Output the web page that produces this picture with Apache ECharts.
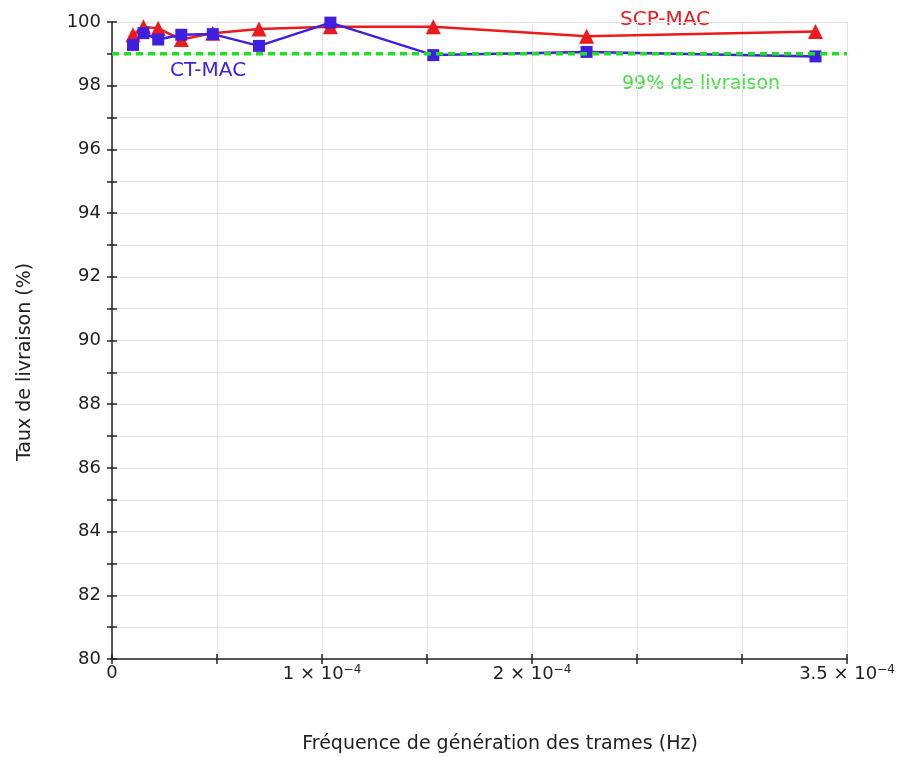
<!DOCTYPE html>
<html>
<head>
<meta charset="utf-8">
<script src="https://cdn.jsdelivr.net/npm/echarts@6/dist/echarts.min.js"></script>
<style>html,body{margin:0;padding:0;background:#fff}#c{width:900px;height:757px}</style>
</head>
<body>
<div id="c"></div>
<script>
// Data
const freqs = [1.0e-5, 1.5e-5, 2.2e-5, 3.3e-5, 4.8e-5, 7.0e-5, 1.04e-4, 1.53e-4, 2.26e-4, 3.35e-4];
const scpMac = [99.6, 99.85, 99.8, 99.45, 99.65, 99.78, 99.85, 99.85, 99.55, 99.7];
const ctMac  = [99.28, 99.65, 99.45, 99.6, 99.62, 99.25, 99.98, 98.96, 99.06, 98.92];
const threshold = 99;
const xLabelValues = [0, 1e-4, 2e-4, 3.5e-4];
const xLabelTexts = ['0', '1 × 10{s|−4}', '2 × 10{s|−4}', '3.5 × 10{s|−4}'];

const font = 'DejaVu Sans';
const pair = (xs, ys) => xs.map((x, i) => [x, ys[i]]);

function xFmt(v) {
  for (let i = 0; i < xLabelValues.length; i++) {
    if (Math.abs(v - xLabelValues[i]) < 1e-9) return xLabelTexts[i];
  }
  return '';
}

const chart = echarts.init(document.getElementById('c'));
chart.setOption({
  animation: false,
  backgroundColor: '#fff',
  grid: { left: 112, right: 53, top: 22, bottom: 98, containLabel: false, outerBoundsMode: 'none' },
  xAxis: [{
    type: 'value', min: 0, max: 3.5e-4, interval: 0.5e-4,
    axisLine: { lineStyle: { color: '#222', width: 1.5 } },
    axisTick: { show: true, length: 5, lineStyle: { color: '#222', width: 1.5 } },
    axisLabel: {
      formatter: xFmt, margin: 5, color: '#222', fontFamily: font, fontSize: 18,
      rich: { s: { fontSize: 12, verticalAlign: 'top', color: '#222', fontFamily: font, padding: [0, 0, 9, 0] } }
    },
    splitLine: { show: true, lineStyle: { color: '#e4e4e4', width: 1 } }
  }, {
    type: 'value', min: 0, max: 3.5e-4, interval: 0.5e-4, position: 'bottom',
    axisLine: { show: false },
    axisTick: { show: true, inside: true, length: 5, lineStyle: { color: '#222', width: 1.5 } },
    axisLabel: { show: false }, splitLine: { show: false }
  }],
  yAxis: [{
    type: 'value', min: 80, max: 100, interval: 1,
    axisLine: { show: true, lineStyle: { color: '#222', width: 1.5 } },
    axisTick: { show: true, length: 5, lineStyle: { color: '#222', width: 1.5 } },
    axisLabel: {
      margin: 11, color: '#222', fontFamily: font, fontSize: 18,
      formatter: v => (Math.round(v) % 2 === 0 ? String(Math.round(v)) : '')
    },
    splitLine: { show: true, lineStyle: { color: '#e4e4e4', width: 1 } }
  }, {
    type: 'value', min: 80, max: 100, interval: 1, position: 'left',
    axisLine: { show: false },
    axisTick: { show: true, inside: true, length: 5, lineStyle: { color: '#222', width: 1.5 } },
    axisLabel: { show: false }, splitLine: { show: false }
  }],
  series: [{
    name: 'SCP-MAC', type: 'line', data: pair(freqs, scpMac),
    symbol: 'triangle', symbolSize: 15,
    lineStyle: { color: '#ec1a1a', width: 2.5 },
    itemStyle: { color: '#ec1a1a' }, z: 3
  }, {
    name: 'CT-MAC', type: 'line', data: pair(freqs, ctMac),
    symbol: 'rect', symbolSize: 12,
    lineStyle: { color: '#3f20e0', width: 2.5 },
    itemStyle: { color: '#3f20e0' }, z: 4
  }, {
    name: '99%', type: 'line', data: [[0, threshold], [3.5e-4, threshold]],
    symbol: 'none',
    lineStyle: { color: '#22dd22', width: 3.5, type: [7, 5] }, z: 5
  }],
  graphic: [
    { type: 'text', x: 620, y: 20, style: { text: 'SCP-MAC', fill: '#ec1a1a', font: '20px "DejaVu Sans"', textVerticalAlign: 'middle', verticalAlign: 'middle' } },
    { type: 'text', x: 170, y: 71, style: { text: 'CT-MAC', fill: '#3f20e0', font: '20px "DejaVu Sans"', textVerticalAlign: 'middle', verticalAlign: 'middle' } },
    { type: 'text', x: 622, y: 84, style: { text: '99% de livraison', fill: '#44dd44', font: '19px "DejaVu Sans"', textVerticalAlign: 'middle', verticalAlign: 'middle' } },
    { type: 'text', x: 500, y: 744, style: { text: 'Fréquence de génération des trames (Hz)', fill: '#222', font: '19px "DejaVu Sans"', align: 'center', textAlign: 'center', verticalAlign: 'middle', textVerticalAlign: 'middle' } },
    { type: 'text', x: 25, y: 362, rotation: Math.PI / 2, style: { text: 'Taux de livraison (%)', fill: '#222', font: '19px "DejaVu Sans"', align: 'center', textAlign: 'center', verticalAlign: 'middle', textVerticalAlign: 'middle' } }
  ]
});
</script>
</body>
</html>
